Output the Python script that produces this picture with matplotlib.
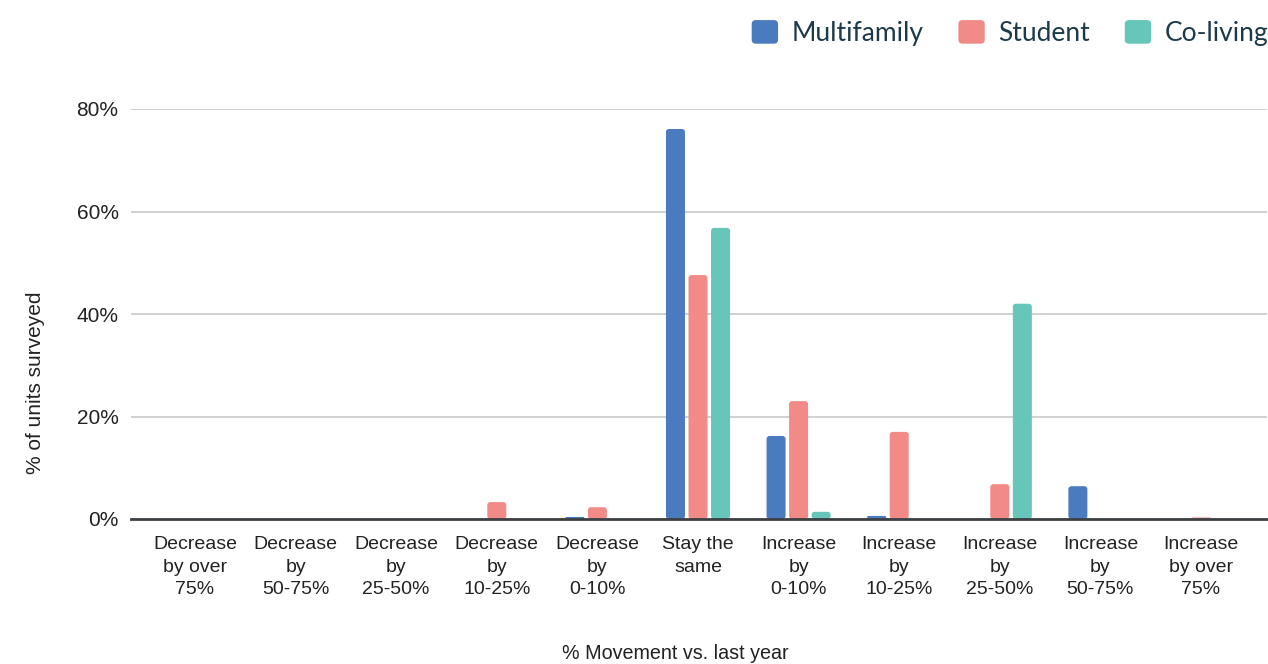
import matplotlib.pyplot as plt
import numpy as np
from matplotlib.patches import Patch, FancyBboxPatch
from matplotlib.legend_handler import HandlerPatch

categories = ["Decrease\nby over\n75%", "Decrease\nby\n50-75%", "Decrease\nby\n25-50%",
              "Decrease\nby\n10-25%", "Decrease\nby\n0-10%", "Stay the\nsame",
              "Increase\nby\n0-10%", "Increase\nby\n10-25%", "Increase\nby\n25-50%",
              "Increase\nby\n50-75%", "Increase\nby over\n75%"]

multifamily = [0, 0, 0, 0, 0.4, 76.1, 16.2, 0.6, 0, 6.4, 0]
student     = [0, 0, 0, 3.3, 2.3, 47.6, 23.0, 17.0, 6.8, 0, 0.3]
coliving    = [0, 0, 0, 0, 0, 56.8, 1.4, 0, 42.0, 0, 0]

series = [("Multifamily", multifamily, "#4b7bbf"),
          ("Student", student, "#f28b88"),
          ("Co-living", coliving, "#66c6ba")]


class RoundBoxHandler(HandlerPatch):
    # rounded square legend keys
    def create_artists(self, legend, orig_handle, xdescent, ydescent,
                       width, height, fontsize, trans):
        p = FancyBboxPatch((-xdescent, -ydescent), width, height,
                           boxstyle="round,pad=0,rounding_size=3",
                           facecolor=orig_handle.get_facecolor(),
                           edgecolor='none', transform=trans)
        return [p]


plt.rcParams['font.family'] = ['Liberation Sans', 'DejaVu Sans']

W, H = 1268, 664
fig = plt.figure(figsize=(W / 100, H / 100), dpi=100)
ax_l, ax_r, ax_b, ax_t = 131, 1267, 519, 109
ax = fig.add_axes([ax_l / W, 1 - ax_b / H, (ax_r - ax_l) / W, (ax_b - ax_t) / H])

x = np.arange(len(categories))
width = 0.189
offset = 0.224
xmin, xmax = -0.636, 10.656
ymax = 80
# y units per x unit on screen, so the corner radius stays round
px_x = (ax_r - ax_l) / (xmax - xmin)
px_y = (ax_b - ax_t) / ymax
aspect = px_x / px_y

for i, (name, vals, col) in enumerate(series):
    bars = ax.bar(x + (i - 1) * offset, vals, width, color=col, label=name, zorder=3)
    for b in bars:
        h = b.get_height()
        b.set_visible(False)
        if h <= 0:
            continue
        r = min(0.03, h / aspect / 2)
        fb = FancyBboxPatch((b.get_x(), 0), b.get_width(), h,
                            boxstyle="round,pad=0,rounding_size=%f" % r,
                            mutation_aspect=aspect,
                            facecolor=col, edgecolor='none', zorder=3)
        ax.add_patch(fb)

ax.set_xlim(xmin, xmax)
ax.set_ylim(0, ymax)
ax.set_yticks([0, 20, 40, 60, 80])
ax.set_yticklabels(["0%", "20%", "40%", "60%", "80%"])
ax.set_xticks(x)
ax.set_xticklabels(categories, linespacing=1.45)
ax.tick_params(axis='x', length=0, pad=12, labelsize=14, labelcolor="#222222")
ax.tick_params(axis='y', length=0, pad=9, labelsize=15, labelcolor="#222222")

ax.grid(axis='y', color="#c8c8c8", linewidth=1.2, zorder=0)
ax.set_axisbelow(True)
for s in ["top", "right", "left"]:
    ax.spines[s].set_visible(False)
ax.spines["bottom"].set_color("#3c4043")
ax.spines["bottom"].set_linewidth(2)
ax.spines["bottom"].set_zorder(4)

ax.set_xlabel("% Movement vs. last year", fontsize=14.2, color="#222222")
ax.xaxis.set_label_coords(0.479, -0.305)
ax.set_ylabel("% of units surveyed", fontsize=15, color="#222222")
ax.yaxis.set_label_coords(-0.0757, 0.332)

handles = [Patch(facecolor=c, edgecolor='none', label=n) for n, _, c in series]
leg = fig.legend(handles=handles, loc="center right", bbox_to_anchor=(1.0, 1 - 33 / H),
                 ncol=3, frameon=False, handlelength=1.0, handleheight=1.0,
                 columnspacing=1.33, handletextpad=0.5, borderaxespad=0,
                 borderpad=0,
                 prop={'family': ['Lato', 'DejaVu Sans'], 'size': 19},
                 handler_map={Patch: RoundBoxHandler()})
for t in leg.get_texts():
    t.set_color("#1d3a4b")

fig.savefig("out.png", dpi=100)
